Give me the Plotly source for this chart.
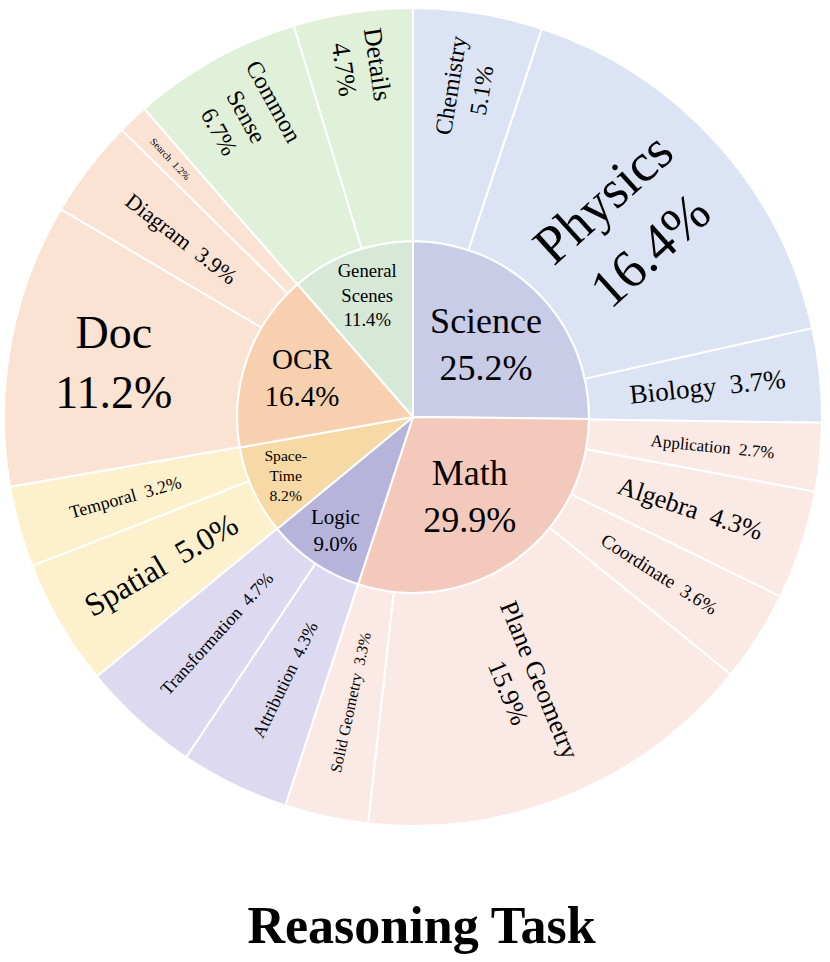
import plotly.graph_objects as go

# ---- data ----
groups = ["Science", "Math", "Logic", "Space-Time", "OCR", "General Scenes"]
group_values = [25.2, 29.9, 9.0, 8.2, 16.4, 11.4]

sub_labels = ["Chemistry", "Physics", "Biology",
              "Application", "Algebra", "Coordinate", "Plane Geometry", "Solid Geometry",
              "Attribution", "Transformation",
              "Spatial", "Temporal",
              "Doc", "Diagram", "Search",
              "Common Sense", "Details"]
sub_parents = ["Science", "Science", "Science",
               "Math", "Math", "Math", "Math", "Math",
               "Logic", "Logic",
               "Space-Time", "Space-Time",
               "OCR", "OCR", "OCR",
               "General Scenes", "General Scenes"]
sub_values = [5.1, 16.4, 3.7,
              2.7, 4.3, 3.6, 15.9, 3.3,
              4.3, 4.7,
              5.0, 3.2,
              11.2, 3.9, 1.2,
              6.7, 4.7]

# ---- styles ----
inner_colors = {"Science": "#c9cce6", "Math": "#f3c9bc", "Logic": "#b7b4dc",
                "Space-Time": "#f6d9a4", "OCR": "#f6d0af", "General Scenes": "#d6e9d9"}
outer_colors = {"Science": "#dce3f4", "Math": "#fbe9e5", "Logic": "#dcd9f1",
                "Space-Time": "#fdf1cd", "OCR": "#fbe3d3", "General Scenes": "#e0f0d9"}

inner_break = {"Science": "Science<br>", "Math": "Math<br>", "Logic": "Logic<br>",
               "Space-Time": "Space-<br>Time<br>", "OCR": "OCR<br>",
               "General Scenes": "General<br>Scenes<br>"}
inner_size = {"Science": 36, "Math": 36, "Logic": 21, "Space-Time": 16, "OCR": 29,
              "General Scenes": 20}

outer_break = {"Chemistry": "Chemistry<br>", "Physics": "Physics<br>", "Doc": "Doc<br>",
               "Common Sense": "Common<br>Sense<br>", "Details": "Details<br>",
               "Plane Geometry": "Plane Geometry<br>"}
outer_size = {"Chemistry": 24, "Physics": 54, "Biology": 27, "Application": 17,
              "Algebra": 26, "Coordinate": 19, "Plane Geometry": 26, "Solid Geometry": 16,
              "Attribution": 18, "Transformation": 18, "Spatial": 32, "Temporal": 18,
              "Doc": 46, "Diagram": 22, "Search": 10, "Common Sense": 24, "Details": 26}
horizontal_outer = {"Doc"}   # labels drawn level instead of along the radius

FONT = "Liberation Serif"

outer_full = [outer_break.get(l, l + "  ") + f"{v:.1f}%" for l, v in zip(sub_labels, sub_values)]
outer_radial_text = [("" if l in horizontal_outer else t) for l, t in zip(sub_labels, outer_full)]
outer_level_text = [(t if l in horizontal_outer else "") for l, t in zip(sub_labels, outer_full)]
inner_text = [inner_break[g] + f"{v:.1f}%" for g, v in zip(groups, group_values)]
sizes = [outer_size[l] for l in sub_labels]

fig = go.Figure()

fig.add_trace(go.Pie(
    labels=sub_labels, values=sub_values, text=outer_radial_text,
    texttemplate="%{text}", textposition="inside", insidetextorientation="radial",
    sort=False, direction="clockwise", rotation=0, hole=0.43,
    marker=dict(colors=[outer_colors[p] for p in sub_parents],
                line=dict(color="white", width=2)),
    textfont=dict(family=FONT, color="black", size=sizes),
    showlegend=False, hoverinfo="label+value",
))

fig.add_trace(go.Pie(
    labels=sub_labels, values=sub_values, text=outer_level_text,
    texttemplate="%{text}", textposition="inside", insidetextorientation="horizontal",
    sort=False, direction="clockwise", rotation=0, hole=0.43,
    marker=dict(colors=["rgba(0,0,0,0)"] * len(sub_labels),
                line=dict(color="rgba(0,0,0,0)", width=0)),
    textfont=dict(family=FONT, color="black", size=sizes),
    showlegend=False, hoverinfo="skip",
))

fig.add_trace(go.Pie(
    labels=groups, values=group_values, text=inner_text,
    texttemplate="%{text}", textposition="inside", insidetextorientation="horizontal",
    sort=False, direction="clockwise", rotation=0,
    domain=dict(x=[0.285, 0.715], y=[0.285, 0.715]),
    marker=dict(colors=[inner_colors[g] for g in groups],
                line=dict(color="white", width=2)),
    textfont=dict(family=FONT, color="black", size=[inner_size[g] for g in groups]),
    showlegend=False, hoverinfo="label+value",
))

fig.update_layout(
    width=830, height=962,
    margin=dict(l=4, r=8, t=8, b=136),
    paper_bgcolor="white", plot_bgcolor="white",
    title=dict(text="<b>Reasoning Task</b>", x=0.508, xanchor="center",
               y=0.039, yanchor="middle",
               font=dict(family=FONT, size=52, color="black")),
)

fig.write_html("out.html")
